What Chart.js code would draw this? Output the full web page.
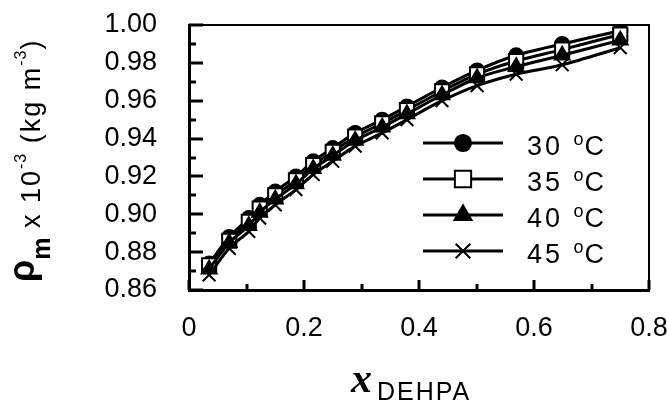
<!DOCTYPE html>
<html>
<head>
<meta charset="utf-8">
<script src="https://cdn.jsdelivr.net/npm/chart.js@4"></script>
<style>
  html, body { margin: 0; padding: 0; background: #fff; }
  #wrap { width: 667px; height: 404px; position: relative; }
</style>
</head>
<body>
<div id="wrap"><canvas id="chart"></canvas></div>
<script>
// mole fraction of DEHPA
const xDehpa = [0.035, 0.070, 0.104, 0.123, 0.150, 0.186, 0.216, 0.250, 0.289, 0.336, 0.379, 0.440, 0.501, 0.569, 0.649, 0.750];
// density x 10^-3 (kg m^-3)
const rho30 = [0.874, 0.888, 0.898, 0.905, 0.912, 0.920, 0.928, 0.935, 0.943, 0.950, 0.957, 0.967, 0.976, 0.984, 0.990, 0.997];
const rho35 = [0.873, 0.886, 0.896, 0.903, 0.910, 0.918, 0.926, 0.933, 0.941, 0.948, 0.955, 0.965, 0.974, 0.981, 0.987, 0.995];
const rho40 = [0.871, 0.885, 0.894, 0.901, 0.908, 0.916, 0.924, 0.931, 0.939, 0.946, 0.953, 0.963, 0.972, 0.978, 0.984, 0.992];
const rho45 = [0.868, 0.882, 0.891, 0.898, 0.905, 0.913, 0.921, 0.928, 0.936, 0.943, 0.950, 0.960, 0.968, 0.974, 0.979, 0.988];
const seriesLabels = ["30 \u00BAC", "35 \u00BAC", "40 \u00BAC", "45 \u00BAC"];
const xTicks = [0, 0.2, 0.4, 0.6, 0.8];
const yTicks = [0.86, 0.88, 0.90, 0.92, 0.94, 0.96, 0.98, 1.00];

const sans = "'Liberation Sans', Arial, sans-serif";

function pts(ys) {
  return xDehpa.map((x, i) => ({ x: x, y: ys[i] }));
}

function series(label, ys, style, radius, fill, order) {
  return {
    label: label,
    data: pts(ys),
    borderColor: "#000",
    borderWidth: 3,
    tension: 0.3,
    pointStyle: style,
    pointRadius: radius,
    pointBackgroundColor: fill,
    pointBorderColor: "#000",
    pointBorderWidth: 2,
    order: order
  };
}

function noPad(s) {
  s.paddingTop = 0; s.paddingBottom = 0; s.paddingLeft = 0; s.paddingRight = 0;
}

// inward ticks, frame, legend and axis titles
const decor = {
  id: "decor",
  afterDraw(chart) {
    const ctx = chart.ctx;
    const a = chart.chartArea;
    const xs = chart.scales.x, ys = chart.scales.y;
    ctx.save();
    ctx.strokeStyle = "#000";
    ctx.lineWidth = 3;
    // y ticks
    for (let k = 0; k <= 14; k++) {
      const v = 0.86 + k * 0.01;
      const py = Math.round(ys.getPixelForValue(v));
      const len = k % 2 === 0 ? 14 : 7;
      ctx.beginPath(); ctx.moveTo(a.left, py); ctx.lineTo(a.left + len, py); ctx.stroke();
    }
    // x ticks
    for (let k = 0; k <= 8; k++) {
      const px = Math.round(xs.getPixelForValue(k * 0.1));
      const len = k % 2 === 0 ? 10 : 6;
      ctx.beginPath(); ctx.moveTo(px, a.bottom); ctx.lineTo(px, a.bottom - len); ctx.stroke();
    }
    // top + right frame
    ctx.lineWidth = 2;
    ctx.beginPath();
    ctx.moveTo(a.left, a.top); ctx.lineTo(a.right, a.top); ctx.lineTo(a.right, a.bottom);
    ctx.stroke();

    // legend inside plot
    chart.data.datasets.forEach((ds, i) => {
      const ly = 143 + i * 36;
      ctx.lineWidth = 3;
      ctx.strokeStyle = "#000";
      ctx.beginPath(); ctx.moveTo(423, ly); ctx.lineTo(503, ly); ctx.stroke();
      ctx.fillStyle = ds.pointBackgroundColor;
      ctx.lineWidth = 2;
      Chart.helpers.drawPoint(ctx, { pointStyle: ds.pointStyle, radius: ds.pointRadius * 1.15, rotation: 0, borderWidth: 2 }, 463, ly);
      ctx.fillStyle = "#000";
      ctx.textAlign = "left";
      ctx.textBaseline = "alphabetic";
      // label with a raised small "o" for the degree mark
      const parts = ds.label.split("\u00BA");
      let tx = 527;
      const base = ly + 12;
      ctx.font = "27px " + sans;
      ctx.letterSpacing = "3px";
      ctx.fillText(parts[0], tx, base);
      tx += ctx.measureText(parts[0]).width;
      ctx.font = "18px " + sans;
      ctx.letterSpacing = "1px";
      ctx.fillText("o", tx, base - 10);
      tx += ctx.measureText("o").width;
      ctx.font = "27px " + sans;
      ctx.letterSpacing = "3px";
      ctx.fillText(parts[1], tx, base);
    });

    // x title
    ctx.letterSpacing = "0px";
    ctx.textBaseline = "alphabetic";
    ctx.font = "bold italic 42px 'Liberation Serif', 'DejaVu Serif', serif";
    ctx.fillText("x", 351, 392);
    ctx.font = "25px " + sans;
    ctx.letterSpacing = "2px";
    ctx.fillText("DEHPA", 377, 400);

    // y title, rotated
    ctx.translate(40, 282);
    ctx.rotate(-Math.PI / 2);
    let u = 0;
    const put = (txt, font, dy, sp) => {
      ctx.font = font;
      ctx.letterSpacing = sp + "px";
      ctx.fillText(txt, u, dy);
      u += ctx.measureText(txt).width;
    };
    put("\u03C1", "bold 36px " + sans, -6, 0);
    put("m", "bold 25px " + sans, 10, 0);
    put(" x 10", "27px " + sans, 0, 2);
    put("-3", "16px " + sans, -14, 1);
    put(" (kg m", "27px " + sans, 0, 2);
    put("-3", "16px " + sans, -14, 1);
    put(")", "27px " + sans, 0, 2);
    ctx.restore();
  }
};

new Chart(document.getElementById("chart"), {
  type: "line",
  data: {
    datasets: [
      series(seriesLabels[0], rho30, "circle", 7, "#000", 4),
      series(seriesLabels[1], rho35, "rect", 10, "#fff", 3),
      series(seriesLabels[2], rho40, "triangle", 8.5, "#000", 2),
      series(seriesLabels[3], rho45, "crossRot", 9, "#000", 1)
    ]
  },
  options: {
    responsive: true,
    maintainAspectRatio: false,
    animation: false,
    layout: { padding: { left: 0, top: 25, right: 18, bottom: 0 } },
    scales: {
      x: {
        type: "linear",
        min: 0,
        max: 0.8,
        afterBuildTicks: (s) => { s.ticks = xTicks.map(v => ({ value: v })); },
        afterFit: (s) => { s.height = 114; noPad(s); },
        ticks: {
          color: "#000",
          padding: 22,
          font: { family: sans, size: 27 },
          callback: (v) => v === 0 ? "0" : String(Number(v.toFixed(1)))
        },
        grid: { drawOnChartArea: false, drawTicks: false },
        border: { display: true, color: "#000", width: 3 }
      },
      y: {
        min: 0.86,
        max: 1.0,
        afterBuildTicks: (s) => { s.ticks = yTicks.map(v => ({ value: v })); },
        afterFit: (s) => { s.width = 189; noPad(s); },
        ticks: {
          color: "#000",
          padding: 32,
          font: { family: sans, size: 27 },
          callback: (v) => v.toFixed(2)
        },
        grid: { drawOnChartArea: false, drawTicks: false },
        border: { display: true, color: "#000", width: 3 }
      }
    },
    plugins: {
      legend: { display: false },
      tooltip: { enabled: false }
    }
  },
  plugins: [decor]
});
</script>
</body>
</html>
